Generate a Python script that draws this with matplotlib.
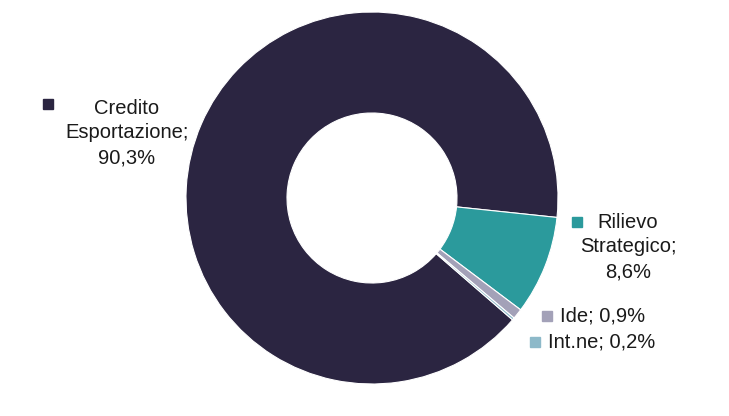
import matplotlib
matplotlib.use("Agg")
import matplotlib.pyplot as plt

plt.rcParams["font.family"] = ["Liberation Sans", "DejaVu Sans"]

categories = ["Credito\nEsportazione;\n90,3%", "Rilievo\nStrategico;\n8,6%", "Ide; 0,9%", "Int.ne; 0,2%"]
shares = [90.3, 8.6, 0.9, 0.2]
colors = ["#2b2541", "#2b9a9c", "#a3a1b8", "#8db9c9"]

W, H = 729, 416
fig = plt.figure(figsize=(W / 100, H / 100), dpi=100)
ax = fig.add_axes([0, 0, 1, 1])

cx, cy = 372, H - 198
r_out, r_in = 186, 85
# Rilievo starts just below horizontal on the right
start = -6 + 360 * shares[0] / 100.0
ax.pie(shares, radius=r_out, center=(cx, cy), startangle=start,
       counterclock=False, colors=colors,
       wedgeprops=dict(width=r_out - r_in, edgecolor="white", linewidth=0.8))

ax.set_xlim(0, W)
ax.set_ylim(0, H)
ax.set_aspect("equal")
ax.axis("off")

fs = 14.5
# label anchors: (marker x, marker y, text x, text y, alignment)
spots = [
    (48, H - 104, 127, H - 133, "center"),
    (577, H - 222, 628, H - 247, "center"),
    (547, H - 316, 560, H - 316, "left"),
    (535, H - 342, 548, H - 342, "left"),
]
for (mx, my, tx, ty, ha), lab, col in zip(spots, categories, colors):
    ax.plot(mx, my, marker="s", markersize=7, color=col, linestyle="none")
    ax.text(tx, ty, lab, ha=ha, va="center", fontsize=fs,
            color="#1a1a1a", linespacing=1.4, multialignment="center")

fig.savefig("out.png", dpi=100)
